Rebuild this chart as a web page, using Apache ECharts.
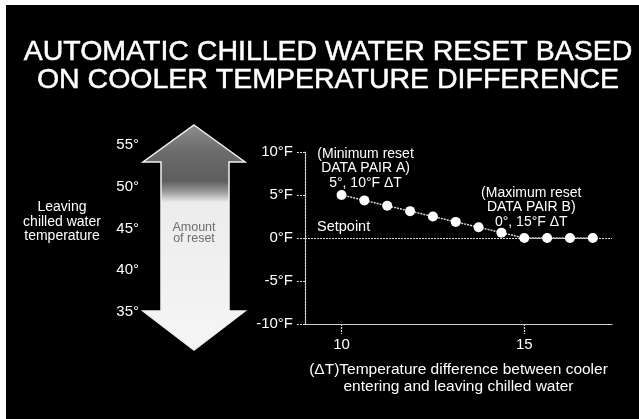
<!DOCTYPE html>
<html>
<head>
<meta charset="utf-8">
<script src="https://cdn.jsdelivr.net/npm/echarts@6/dist/echarts.min.js"></script>
<style>
  html, body { margin: 0; padding: 0; background: #fff; }
  #chart { width: 639px; height: 419px; }
</style>
</head>
<body>
<div id="chart"></div>
<script>
// Cooler temperature difference (°F ΔT) and the chilled water reset it produces (°F)
const deltaT = [10, 10.625, 11.25, 11.875, 12.5, 13.125, 13.75, 14.375, 15, 15.625, 16.25, 16.875];
const resetF = [5, 4.375, 3.75, 3.125, 2.5, 1.875, 1.25, 0.625, 0, 0, 0, 0];

// Axis tick values
const resetTicks = [-10, -5, 0, 5, 10];
const deltaTicks = [10, 15];
const leavingTempTicks = [35, 40, 45, 50, 55];

const titleLines = ['AUTOMATIC CHILLED WATER RESET BASED', 'ON COOLER TEMPERATURE DIFFERENCE'];
const noteA = ['(Minimum reset', 'DATA PAIR A)', '5°, 10°F ΔT'];
const noteB = ['(Maximum reset', 'DATA PAIR B)', '0°, 15°F ΔT'];

const FONT = '"Liberation Sans", Arial, Helvetica, sans-serif';
const LINE = '#d8d8d8';

const chart = echarts.init(document.getElementById('chart'), null, { renderer: 'canvas' });

const noteStyle = {
  show: true, position: 'top', color: '#fff', fontFamily: FONT,
  fontSize: 14, lineHeight: 14.5, align: 'center'
};

const points = deltaT.map((x, i) => {
  const p = { value: [x, resetF[i]] };
  if (i === 0) {
    p.label = Object.assign({}, noteStyle, { distance: 0, offset: [24, 0], formatter: noteA.join('\n') });
  }
  if (x === 15) {
    p.label = Object.assign({}, noteStyle, { distance: 4, offset: [7, 0], formatter: noteB.join('\n') });
  }
  return p;
});

const dotted = { color: LINE, width: 1.2, type: [2, 1] };

const option = {
  backgroundColor: '#fff',
  animation: false,
  title: {
    text: titleLines.join('\n'),
    left: 323,
    textAlign: 'center',
    top: 33,
    textStyle: { color: '#fff', fontFamily: FONT, fontWeight: 'normal', fontSize: 28.5, lineHeight: 28,
      textBorderColor: '#fff', textBorderWidth: 0.5 }
  },
  graphic: [
    // black panel
    { type: 'rect', z: -10, silent: true,
      shape: { x: 6, y: 5, width: 633, height: 414 },
      style: { fill: '#000' } },
    // double-headed "amount of reset" arrow
    { type: 'polygon', z: 0, silent: true,
      shape: { points: [
        [194, 125], [245, 162], [229, 162], [229, 311], [245, 311],
        [194, 350], [143, 311], [161, 311], [161, 162], [143, 162]
      ] },
      style: {
        fill: new echarts.graphic.LinearGradient(0, 0, 0, 1, [
          { offset: 0, color: '#8e8e8e' },
          { offset: 0.12, color: '#6c6c6c' },
          { offset: 0.25, color: '#5e5e5e' },
          { offset: 0.30, color: '#9c9c9c' },
          { offset: 0.345, color: '#ececec' },
          { offset: 1, color: '#f6f6f6' }
        ]),
        stroke: '#f2f2f2', lineWidth: 1.5
      } },
    { type: 'text', z: 1, silent: true, x: 194, y: 233,
      style: { text: 'Amount\nof reset', fill: '#6e6e6e', font: '12.5px ' + FONT,
        lineHeight: 11.5, align: 'center', verticalAlign: 'middle' } },
    { type: 'text', z: 1, silent: true, x: 62, y: 222,
      style: { text: 'Leaving\nchilled water\ntemperature', fill: '#fff', font: '14px ' + FONT,
        lineHeight: 14.5, align: 'center', verticalAlign: 'middle' } }
  ],
  grid: [
    { left: 305, right: 27, top: 152, bottom: 95 },
    { left: 143, width: 100, top: 145, bottom: 107 }
  ],
  xAxis: [
    {
      gridIndex: 0, type: 'value', min: 9, max: 17.4,
      axisLine: { show: true, onZero: false, lineStyle: dotted },
      axisTick: { show: true, customValues: deltaTicks, length: 10, inside: false, lineStyle: dotted },
      axisLabel: { customValues: deltaTicks, color: '#fff', fontFamily: FONT, fontSize: 15, margin: 13 },
      splitLine: { show: false },
      name: '(ΔT)Temperature difference between cooler\nentering and leaving chilled water',
      nameLocation: 'middle', nameGap: 37,
      nameTextStyle: { color: '#fff', fontFamily: FONT, fontSize: 15.5, lineHeight: 17 }
    },
    { gridIndex: 1, type: 'value', show: false, min: 0, max: 1 }
  ],
  yAxis: [
    {
      gridIndex: 0, type: 'value', min: resetTicks[0], max: resetTicks[resetTicks.length - 1], interval: 5,
      axisLine: { show: true, onZero: false, lineStyle: dotted },
      axisTick: { show: true, length: 8, lineStyle: dotted },
      axisLabel: { color: '#fff', fontFamily: FONT, fontSize: 15, margin: 12,
        formatter: v => v + '°F' },
      splitLine: { show: false }
    },
    {
      gridIndex: 1, type: 'value', min: leavingTempTicks[0], max: leavingTempTicks[leavingTempTicks.length - 1], interval: 5,
      axisLine: { show: false }, axisTick: { show: false }, splitLine: { show: false },
      axisLabel: { color: '#fff', fontFamily: FONT, fontSize: 15, margin: 4, formatter: v => v + '°' }
    }
  ],
  series: [
    {
      type: 'line', xAxisIndex: 0, yAxisIndex: 0,
      data: points,
      symbol: 'circle', symbolSize: 10,
      itemStyle: { color: '#fff' },
      lineStyle: { color: LINE, width: 1.5, type: [2, 1] },
      z: 5,
      markLine: {
        silent: true, symbol: 'none',
        lineStyle: dotted,
        label: { show: true, position: 'insideStartTop', formatter: 'Setpoint',
          color: '#fff', fontFamily: FONT, fontSize: 14.5, distance: [12, 4] },
        data: [{ yAxis: 0 }]
      }
    }
  ]
};

chart.setOption(option);
</script>
</body>
</html>
